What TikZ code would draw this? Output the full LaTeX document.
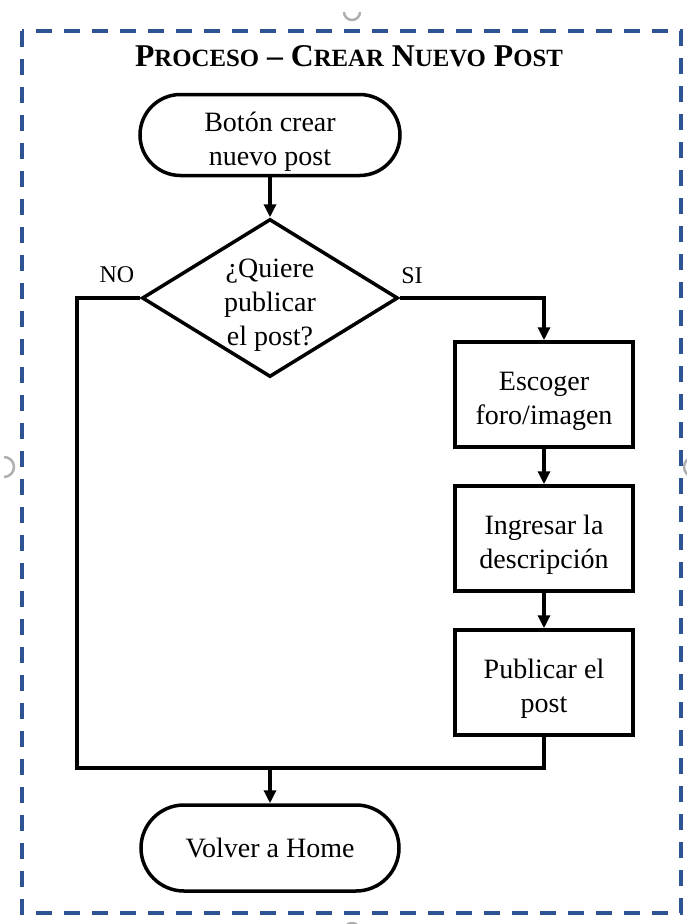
\documentclass[tikz,border=0pt]{standalone}
\usepackage{fontspec}
\setmainfont{Liberation Serif}
\usetikzlibrary{shapes.geometric,shapes.misc,arrows.meta}
\definecolor{frameblue}{RGB}{47,84,150}
\definecolor{handlegrey}{RGB}{175,175,175}
% reduced capitals for the heading
\newcommand\redcap[1]{{\fontsize{24.8}{30}\selectfont #1}}
% extra head room on a first line, so that multi-line texts sit a little low
\newcommand\headroom{\rule{0pt}{32pt}}

\begin{document}
\begin{tikzpicture}[x=1pt,y=-1pt,
  flow/.style={draw=black,line width=3.5pt,fill=white,align=center,
               font=\fontsize{28}{34}\selectfont,inner sep=0pt},
  terminal/.style={flow,rounded rectangle,minimum width=260pt,minimum height=81pt},
  stepbox/.style={flow,rectangle,minimum width=178pt,minimum height=105pt},
  decision/.style={flow,diamond,aspect=1.62,inner sep=-8pt,
                   minimum width=256pt,minimum height=158pt},
  link/.style={line width=3.5pt,line join=miter},
  arr/.style={link,-{Triangle[length=13pt,width=12pt]}},
  branch/.style={font=\fontsize{24}{28}\selectfont,inner sep=0pt},
  frame/.style={draw=frameblue,line width=3.5pt,dash pattern=on 16pt off 12pt},
  handle/.style={draw=handlegrey,line width=2.5pt}
]
\useasboundingbox (0,0) rectangle (687,924);

% dashed frame and its grey grips
\draw[frame] (22,31) rectangle (681,913);
\draw[handle] (344,12) arc[start angle=180,end angle=360,radius=8pt];
\draw[handle] (4,457) arc[start angle=90,end angle=-90,radius=10pt];
\draw[handle] (694,457) arc[start angle=90,end angle=270,radius=10pt];
\draw[handle] (344,931) arc[start angle=180,end angle=0,radius=8pt];

% heading
\node[font=\fontsize{31.7}{38}\selectfont\bfseries] (title) at (349,56)
  {P\redcap{ROCESO} – C\redcap{REAR} N\redcap{UEVO} P\redcap{OST}};

% flow elements
\node[terminal] (start) at (270,135) {\headroom Botón crear\\nuevo post};
\node[decision] (dec) at (270,298) {\headroom ¿Quiere\\publicar\\el post?};
\node[stepbox] (pick) at (544,394.5) {\headroom Escoger\\foro/imagen};
\node[stepbox] (desc) at (544,538.5) {\headroom Ingresar la\\descripción};
\node[stepbox] (pub) at (544,682.5) {\headroom Publicar el\\post};
\node[terminal,minimum width=258pt,minimum height=86pt] (home) at (270,848) {Volver a Home};

\node[branch] (no) at (117,275) {NO};
\node[branch] (si) at (412,276) {SI};

% connectors
\coordinate (nobend) at (77,768);
\coordinate (join) at (start.south |- nobend);

\draw[arr] (start.south) -- (dec.north);
\draw[arr] (dec.east) -| (pick.north);
\draw[arr] (pick.south) -- (desc.north);
\draw[arr] (desc.south) -- (pub.north);
\draw[link] (dec.west) -| (nobend) -| (pub.south);
\draw[arr] (join) -- (home.north);
\end{tikzpicture}
\end{document}
